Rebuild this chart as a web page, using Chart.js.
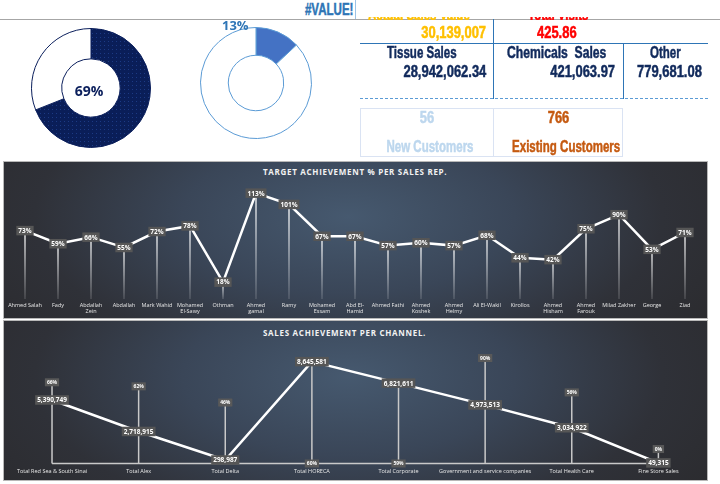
<!DOCTYPE html>
<html>
<head>
<meta charset="utf-8">
<script src="https://cdn.jsdelivr.net/npm/chart.js@4"></script>
<style>
  body { margin: 0; width: 720px; height: 484px; background: #fff; position: relative; overflow: hidden; font-family: "Open Sans", sans-serif; }
  .abs { position: absolute; }
  .kpi { position: absolute; font-family: "Liberation Sans", Arial, sans-serif; font-weight: bold; white-space: nowrap; line-height: 16px; font-size: 16px; -webkit-text-stroke: 0.5px currentColor; }
  .num { transform: scaleX(0.81); }
  .txt { transform: scaleX(0.72); }
  .l { transform-origin: left center; }
  .r { transform-origin: right center; }
  .c { transform-origin: center center; }
  .hl { position: absolute; height: 0; }
  .vl { position: absolute; width: 0; }
  .panel { position: absolute; left: 3px; width: 705px; box-sizing: border-box; border: 1px solid #b8b8b8;
    background: radial-gradient(ellipse 62% 130% at 49% 35%, #46596f 0%, #3a4658 38%, #2f3138 72%, #2b2b2e 100%); }
  .ptitle { position: absolute; left: 263px; color: #f2f2f2; font-weight: bold; font-size: 8px; letter-spacing: 0.7px; white-space: nowrap; }
  canvas { position: absolute; }
</style>
</head>
<body>

<!-- top strip -->
<div class="hl" style="left:0;top:19px;width:720px;border-top:1px solid #a6a6a6"></div>
<div class="vl" style="left:355px;top:0;height:19px;border-left:1px solid #9dc3e6"></div>
<div class="kpi txt r" style="right:367px;top:2px;color:#2e75b6;font-size:17px;transform:scaleX(0.68)">#VALUE!</div>

<!-- donuts -->
<canvas id="donutShare" width="120" height="120" style="left:31px;top:28px"></canvas>
<div class="abs" style="left:70px;top:81px;width:38px;text-align:center;color:#0b1f5c;font-weight:bold;font-size:14px;line-height:20px">69%</div>
<canvas id="donutNew" width="112" height="112" style="left:200px;top:27px"></canvas>
<div class="abs" style="left:222px;top:16px;color:#2e75b6;font-weight:bold;font-size:13px;line-height:18px">13%</div>

<!-- KPI table -->
<div class="abs" style="left:360px;top:17px;width:260px;height:3px;overflow:hidden">
  <div class="kpi txt l" style="left:8px;top:-10px;color:#ffc000">Actual Sales Value</div>
  <div class="kpi txt l" style="left:168px;top:-10px;color:#ff0000">Total Visits</div>
</div>
<div class="kpi num r" style="right:234px;top:25px;color:#ffc000">30,139,007</div>
<div class="kpi num l" style="left:537px;top:25px;color:#ff0000">425.86</div>
<div class="hl" style="left:360px;top:43px;width:348px;border-top:1.5px solid #2e75b6"></div>
<div class="vl" style="left:493px;top:19px;height:80px;border-left:1.5px solid #2e75b6"></div>
<div class="vl" style="left:623px;top:43px;height:56px;border-left:1.5px solid #2e75b6"></div>
<div class="hl" style="left:360px;top:98px;width:348px;border-top:1.5px dashed #5b9bd5"></div>

<div class="kpi txt l" style="left:387px;top:45px;color:#112a5c">Tissue Sales</div>
<div class="kpi num r" style="right:234px;top:64px;color:#112a5c">28,942,062.34</div>
<div class="kpi txt l" style="left:507px;top:45px;color:#112a5c;transform:scaleX(0.76)">Chemicals&nbsp; Sales</div>
<div class="kpi num r" style="right:105px;top:64px;color:#112a5c">421,063.97</div>
<div class="kpi txt l" style="left:650px;top:45px;color:#112a5c">Other</div>
<div class="kpi num l" style="left:637px;top:64px;color:#112a5c">779,681.08</div>

<div class="abs" style="left:360px;top:108px;width:263px;height:49px;box-sizing:border-box;border:1px solid #dae3f3"></div>
<div class="vl" style="left:493px;top:108px;height:49px;border-left:1px solid #dae3f3"></div>
<div class="kpi num c" style="left:361px;top:110px;width:132px;text-align:center;color:#bdd7ee">56</div>
<div class="kpi num c" style="left:494px;top:110px;width:129px;text-align:center;color:#c55a11">766</div>
<div class="kpi txt c" style="left:361px;top:139px;width:138px;text-align:center;color:#bdd7ee">New Customers</div>
<div class="kpi txt c" style="left:494px;top:139px;width:129px;text-align:center;color:#c55a11">Existing Customers</div>

<!-- dark panels -->
<div class="panel" style="top:161px;height:158px"></div>
<div class="panel" style="top:320px;height:161px"></div>
<div class="ptitle" style="top:166px">TARGET ACHIEVEMENT % PER SALES REP.</div>
<div class="ptitle" style="top:327px">SALES ACHIEVEMENT PER CHANNEL.</div>
<canvas id="repChart" width="705" height="157" style="left:3px;top:161px"></canvas>
<canvas id="channelChart" width="705" height="159" style="left:3px;top:321px"></canvas>

<script>
// donut values
const salesShare = [69, 31];
const newCustomerShare = [13, 87];

// sales reps
const repNames = [
  'Ahmed Salah', 'Fady', ['Abdallah', 'Zein'], 'Abdallah', 'Mark Wahid', ['Mohamed', 'El-Sawy'], 'Othman',
  ['Ahmed', 'gamal'], 'Ramy', ['Mohamed', 'Essam'], ['Abd El-', 'Hamid'], 'Ahmed Fathi', ['Ahmed', 'Koshek'],
  ['Ahmed', 'Helmy'], 'Ali El-Wakil', 'Kirollos', ['Ahmed', 'Hisham'], ['Ahmed', 'Farouk'], 'Milad Zakher', 'George', 'Ziad'
];
const repAchievement = [73, 59, 66, 55, 72, 78, 18, 113, 101, 67, 67, 57, 60, 57, 68, 44, 42, 75, 90, 53, 71];

// channels
const channelNames = ['Total Red Sea & South Sinai', 'Total Alex', 'Total Delta', 'Total HORECA',
  'Total Corporate', 'Government and service companies', 'Total Health Care', 'Fine Store Sales'];
const channelSales = [5390749, 2718915, 298987, 8645581, 6821611, 4973513, 3034922, 49315];
const channelAchievement = [66, 62, 46, 60, 59, 90, 56, 0];

Chart.defaults.animation = false;
Chart.defaults.responsive = false;
Chart.defaults.devicePixelRatio = 1;
Chart.defaults.font.family = '"Open Sans", sans-serif';
Chart.defaults.plugins.legend.display = false;
Chart.defaults.plugins.tooltip.enabled = false;

// dotted navy fill for the first donut
function dotPattern() {
  const c = document.createElement('canvas');
  c.width = 4; c.height = 4;
  const x = c.getContext('2d');
  x.fillStyle = '#0a1e58';
  x.fillRect(0, 0, 4, 4);
  x.fillStyle = '#1c3a84';
  x.fillRect(1, 1, 1, 1);
  return x.createPattern(c, 'repeat');
}

new Chart(document.getElementById('donutShare'), {
  type: 'doughnut',
  data: { datasets: [{ data: salesShare, backgroundColor: [dotPattern(), '#ffffff'], borderColor: '#0b1f5c', borderWidth: 1 }] },
  options: { cutout: '49%' }
});

new Chart(document.getElementById('donutNew'), {
  type: 'doughnut',
  data: { datasets: [{ data: newCustomerShare, backgroundColor: ['#4472c4', '#ffffff'], borderColor: '#5b9bd5', borderWidth: 1 }] },
  options: { cutout: '50%' }
});

// grey label box centred on a point
function labelBox(ctx, text, x, y, size, fill) {
  ctx.font = 'bold ' + size + 'px "Open Sans", sans-serif';
  const w = ctx.measureText(text).width + 4;
  const h = size + 3;
  ctx.fillStyle = fill;
  ctx.fillRect(x - w / 2, y - h / 2, w, h);
  ctx.fillStyle = '#ffffff';
  ctx.textAlign = 'center';
  ctx.textBaseline = 'middle';
  ctx.fillText(text, x, y + 0.5);
}

const repMarks = {
  id: 'repMarks',
  beforeDatasetsDraw(chart) {
    const { ctx, chartArea } = chart;
    ctx.save();
    chart.getDatasetMeta(0).data.forEach(pt => {
      const g = ctx.createLinearGradient(0, pt.y, 0, chartArea.bottom);
      g.addColorStop(0, 'rgba(255,255,255,0.9)');
      g.addColorStop(1, 'rgba(255,255,255,0.15)');
      ctx.strokeStyle = g;
      ctx.lineWidth = 1.5;
      ctx.beginPath();
      ctx.moveTo(pt.x, pt.y);
      ctx.lineTo(pt.x, chartArea.bottom);
      ctx.stroke();
    });
    ctx.restore();
  },
  afterDatasetsDraw(chart) {
    const ctx = chart.ctx;
    ctx.save();
    chart.getDatasetMeta(0).data.forEach((pt, i) => {
      labelBox(ctx, repAchievement[i] + '%', pt.x, pt.y, 6.5, '#565656');
    });
    ctx.restore();
  }
};

new Chart(document.getElementById('repChart'), {
  type: 'line',
  data: {
    labels: repNames,
    datasets: [{ data: repAchievement, borderColor: '#ffffff', borderWidth: 2.5, pointRadius: 0, tension: 0 }]
  },
  options: {
    layout: { padding: { left: 5.5, right: 6.5, top: 25.6, bottom: 0 } },
    scales: {
      x: {
        offset: true,
        grid: { display: false, drawTicks: false },
        border: { display: false },
        ticks: { autoSkip: false, maxRotation: 0, padding: 3, color: '#e6e6e6', font: { size: 5.5 } },
        afterFit: s => { s.height = 19; }
      },
      y: { display: false, min: 0, max: 120 }
    }
  },
  plugins: [repMarks]
});

const channelMarks = {
  id: 'channelMarks',
  beforeDatasetsDraw(chart) {
    const { ctx, scales } = chart;
    const sales = chart.getDatasetMeta(0).data;
    const base = scales.y.getPixelForValue(0);
    ctx.save();
    ctx.strokeStyle = '#c9c9c9';
    ctx.lineWidth = 1.5;
    ctx.beginPath();
    ctx.moveTo(sales[0].x, base);
    ctx.lineTo(sales[sales.length - 1].x, base);
    ctx.stroke();
    sales.forEach((pt, i) => {
      const py = scales.y2.getPixelForValue(channelAchievement[i]);
      const top = Math.min(pt.y, py);
      ctx.beginPath();
      ctx.moveTo(pt.x, base);
      ctx.lineTo(pt.x, top);
      ctx.stroke();
    });
    ctx.restore();
  },
  afterDatasetsDraw(chart) {
    const { ctx, scales } = chart;
    const base = scales.y.getPixelForValue(0);
    ctx.save();
    chart.getDatasetMeta(0).data.forEach((pt, i) => {
      const py = scales.y2.getPixelForValue(channelAchievement[i]);
      labelBox(ctx, channelAchievement[i] + '%', pt.x, py < pt.y ? py : base, 5, '#595959');
      labelBox(ctx, channelSales[i].toLocaleString('en-US'), pt.x, pt.y, 6.5, '#565656');
    });
    ctx.restore();
  }
};

new Chart(document.getElementById('channelChart'), {
  type: 'line',
  data: {
    labels: channelNames,
    datasets: [{ data: channelSales, borderColor: '#ffffff', borderWidth: 2.5, pointRadius: 0, tension: 0 }]
  },
  options: {
    layout: { padding: { left: 5.7, right: 6.3, top: 24.7, bottom: 0 } },
    scales: {
      x: {
        offset: true,
        grid: { display: false, drawTicks: false },
        border: { display: false },
        ticks: { autoSkip: false, maxRotation: 0, padding: 5, color: '#e6e6e6', font: { size: 5.5 } },
        afterFit: s => { s.height = 16.5; }
      },
      y: { display: false, min: 0, max: 10000000 },
      y2: { display: false, min: -14.3, max: 102.2 }
    }
  },
  plugins: [channelMarks]
});
</script>
</body>
</html>
